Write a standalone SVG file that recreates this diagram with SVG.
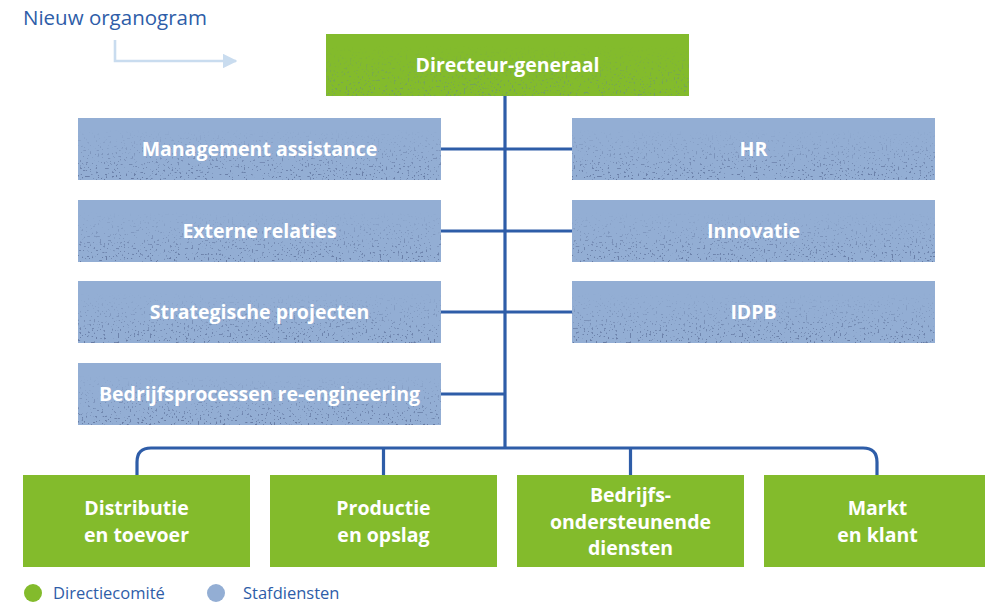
<svg xmlns="http://www.w3.org/2000/svg" width="985" height="605" viewBox="0 0 985 605">
<style>
.t{font-family:"Open Sans","Noto Sans","DejaVu Sans",sans-serif;font-weight:700;fill:#ffffff;text-anchor:middle}
.s{font-size:19.5px}
.g{fill:#83bb2c}
.b{fill:#93aed4}
.ln{fill:none;stroke:#2e5da8;stroke-width:3.2}
.lg{font-family:"Open Sans","Noto Sans","DejaVu Sans",sans-serif;font-size:16.5px;fill:#2e5da8}
</style>
<defs>
<linearGradient id="fade" x1="0" y1="0" x2="0" y2="1">
<stop offset="0.2" stop-color="#fff" stop-opacity="0"/>
<stop offset="1" stop-color="#fff" stop-opacity="1"/>
</linearGradient>
<filter id="speck" x="0" y="0" width="1" height="1" color-interpolation-filters="sRGB">
<feTurbulence type="fractalNoise" baseFrequency="0.5" numOctaves="2" seed="4" result="n"/>
<feColorMatrix in="n" type="matrix" values="0 0 0 0 0.40  0 0 0 0 0.48  0 0 0 0 0.64  16 0 0 0 -10.3" result="d"/>
<feComposite in="d" in2="SourceGraphic" operator="in"/>
</filter>
<filter id="speckG" x="0" y="0" width="1" height="1" color-interpolation-filters="sRGB">
<feTurbulence type="fractalNoise" baseFrequency="0.5" numOctaves="2" seed="9" result="n"/>
<feColorMatrix in="n" type="matrix" values="0 0 0 0 0.45  0 0 0 0 0.62  0 0 0 0 0.40  16 0 0 0 -10.1" result="d"/>
<feComposite in="d" in2="SourceGraphic" operator="in"/>
</filter>
<marker id="ah" viewBox="0 0 10 10" refX="9" refY="5" markerWidth="5.6" markerHeight="5.6" orient="auto" markerUnits="strokeWidth">
<path d="M0,0 L10,5 L0,10 z" fill="#c9dcef"/>
</marker>
</defs>
<rect width="985" height="605" fill="#ffffff"/>

<g id="title">
<text x="23" y="25" style="font-family:'Open Sans','Noto Sans',sans-serif;font-size:20.5px;fill:#2e5da8">Nieuw organogram</text>
<path d="M115,40 V61 H236" fill="none" stroke="#c9dcef" stroke-width="2.6" marker-end="url(#ah)"/>
</g>

<g id="connectors">
<path class="ln" d="M505,96 V448"/>
<path class="ln" d="M441,149 H572 M441,231 H572 M441,312 H572 M441,394 H505"/>
<path class="ln" d="M137,475 V462 Q137,448 151,448 H863 Q877,448 877,462 V475"/>
<path class="ln" d="M383.5,448 V475 M630.5,448 V475"/>
</g>

<g id="dg">
<rect class="g" x="326" y="34" width="363" height="62"/>
<rect x="326" y="34" width="363" height="62" fill="url(#fade)" filter="url(#speckG)"/>
<text class="t s" x="507.5" y="72">Directeur-generaal</text>
</g>

<g id="management-assistance">
<rect class="b" x="78" y="118" width="363" height="62"/>
<rect x="78" y="118" width="363" height="62" fill="url(#fade)" filter="url(#speck)"/>
<text class="t s" x="259.5" y="156">Management assistance</text>
</g>
<g id="externe-relaties">
<rect class="b" x="78" y="200" width="363" height="62"/>
<rect x="78" y="200" width="363" height="62" fill="url(#fade)" filter="url(#speck)"/>
<text class="t s" x="259.5" y="238">Externe relaties</text>
</g>
<g id="strategische-projecten">
<rect class="b" x="78" y="281" width="363" height="62"/>
<rect x="78" y="281" width="363" height="62" fill="url(#fade)" filter="url(#speck)"/>
<text class="t s" x="259.5" y="319">Strategische projecten</text>
</g>
<g id="bedrijfsprocessen">
<rect class="b" x="78" y="363" width="363" height="62"/>
<rect x="78" y="363" width="363" height="62" fill="url(#fade)" filter="url(#speck)"/>
<text class="t s" x="259.5" y="401">Bedrijfsprocessen re-engineering</text>
</g>
<g id="hr">
<rect class="b" x="572" y="118" width="363" height="62"/>
<rect x="572" y="118" width="363" height="62" fill="url(#fade)" filter="url(#speck)"/>
<text class="t s" x="753.5" y="156">HR</text>
</g>
<g id="innovatie">
<rect class="b" x="572" y="200" width="363" height="62"/>
<rect x="572" y="200" width="363" height="62" fill="url(#fade)" filter="url(#speck)"/>
<text class="t s" x="753.5" y="238">Innovatie</text>
</g>
<g id="idpb">
<rect class="b" x="572" y="281" width="363" height="62"/>
<rect x="572" y="281" width="363" height="62" fill="url(#fade)" filter="url(#speck)"/>
<text class="t s" x="753.5" y="319">IDPB</text>
</g>

<g id="distributie">
<rect class="g" x="23" y="475" width="227" height="92"/>
<text class="t s" x="136.5" y="515">Distributie</text>
<text class="t s" x="136.5" y="542">en toevoer</text>
</g>
<g id="productie">
<rect class="g" x="270" y="475" width="227" height="92"/>
<text class="t s" x="383.5" y="515">Productie</text>
<text class="t s" x="383.5" y="542">en opslag</text>
</g>
<g id="bedrijfsondersteunende">
<rect class="g" x="517" y="475" width="227" height="92"/>
<text class="t s" x="630.5" y="502">Bedrijfs-</text>
<text class="t s" x="630.5" y="529">ondersteunende</text>
<text class="t s" x="630.5" y="555">diensten</text>
</g>
<g id="markt">
<rect class="g" x="764" y="475" width="227" height="92"/>
<text class="t s" x="877.5" y="515">Markt</text>
<text class="t s" x="877.5" y="542">en klant</text>
</g>

<g id="legend">
<circle cx="33" cy="593" r="9" fill="#83bb2c"/>
<text class="lg" x="53" y="598.5">Directiecomité</text>
<circle cx="216" cy="593" r="9" fill="#93aed4"/>
<text class="lg" x="243" y="598.5">Stafdiensten</text>
</g>
</svg>
